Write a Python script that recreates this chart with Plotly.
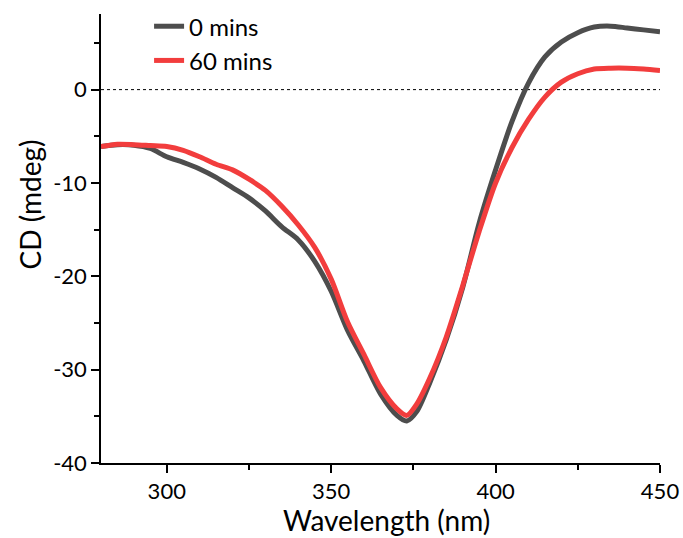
import plotly.graph_objects as go

wavelength = [280, 285, 290, 295, 300, 305, 310, 315, 320, 325, 330, 335, 340, 345,
              350, 355, 360, 365, 370, 373, 376, 380, 385, 390, 395, 400, 405, 410,
              415, 420, 425, 430, 435, 440, 445, 450]

cd_0min = [-6.1, -5.9, -5.95, -6.3, -7.2, -7.8, -8.5, -9.4, -10.5, -11.6, -13.0, -14.7,
           -16.1, -18.4, -21.6, -25.8, -29.1, -32.6, -34.9, -35.5, -34.5, -31.4, -26.8,
           -21.2, -14.3, -8.6, -3.4, 0.7, 3.5, 5.1, 6.1, 6.7, 6.8, 6.6, 6.4, 6.2]

cd_60min = [-6.1, -5.85, -5.9, -6.0, -6.1, -6.5, -7.2, -8.0, -8.6, -9.6, -10.8, -12.5,
            -14.5, -16.9, -20.3, -24.9, -28.4, -31.9, -34.2, -34.9, -33.7, -30.9, -26.5,
            -21.0, -15.2, -10.0, -6.2, -3.2, -0.8, 0.8, 1.7, 2.2, 2.3, 2.3, 2.2, 2.05]

series_names = ["0 mins", "60 mins"]

x_ticks = [300, 350, 400, 450]
x_ticklabels = ["300", "350", "400", "450"]
y_ticks = [-40, -30, -20, -10, 0]
y_ticklabels = ["-40", "-30", "-20", "-10", "0"]

FONT = "Lato"

fig = go.Figure()
fig.add_trace(go.Scatter(x=wavelength, y=cd_0min, name=series_names[0], mode="lines",
                         line=dict(color="#4D4D4D", width=5, shape="spline", smoothing=0.8)))
fig.add_trace(go.Scatter(x=wavelength, y=cd_60min, name=series_names[1], mode="lines",
                         line=dict(color="#F23D3D", width=5, shape="spline", smoothing=0.8)))

fig.add_hline(y=0, line=dict(color="black", width=1, dash="dot"), layer="below")

axis_common = dict(showline=True, linecolor="black", linewidth=1.5, mirror=False,
                   showgrid=False, zeroline=False, ticks="outside", ticklen=8,
                   tickwidth=1.5, tickcolor="black", automargin=False,
                   tickfont=dict(family=FONT, size=22, color="black"))

fig.update_xaxes(range=[280, 450], tickmode="array", tickvals=x_ticks, ticktext=x_ticklabels,
                 minor=dict(dtick=25, tick0=275, ticklen=5, tickwidth=1.5, tickcolor="black",
                            ticks="outside"),
                 **axis_common)
fig.update_yaxes(range=[-40, 8.1], tickmode="array", tickvals=y_ticks, ticktext=y_ticklabels,
                 minor=dict(dtick=5, tick0=0, ticklen=5, tickwidth=1.5, tickcolor="black",
                            ticks="outside"),
                 **axis_common)

fig.add_annotation(text="Wavelength (nm)", xref="paper", yref="paper", x=0.51, y=-0.128,
                   xanchor="center", yanchor="middle", showarrow=False,
                   font=dict(family=FONT, size=28, color="black"))
fig.add_annotation(text="CD (mdeg)", xref="paper", yref="paper", x=-0.128, y=0.577,
                   xanchor="center", yanchor="middle", textangle=-90, showarrow=False,
                   font=dict(family=FONT, size=28, color="black"))

fig.update_layout(
    width=683, height=538,
    margin=dict(l=101, r=23, t=14, b=75, autoexpand=False),
    paper_bgcolor="white", plot_bgcolor="white",
    showlegend=True,
    legend=dict(x=0.086, y=1.022, xanchor="left", yanchor="top",
                font=dict(family=FONT, size=24, color="black"),
                bgcolor="rgba(0,0,0,0)", borderwidth=0, tracegroupgap=0),
)

fig.write_html("out.html")
